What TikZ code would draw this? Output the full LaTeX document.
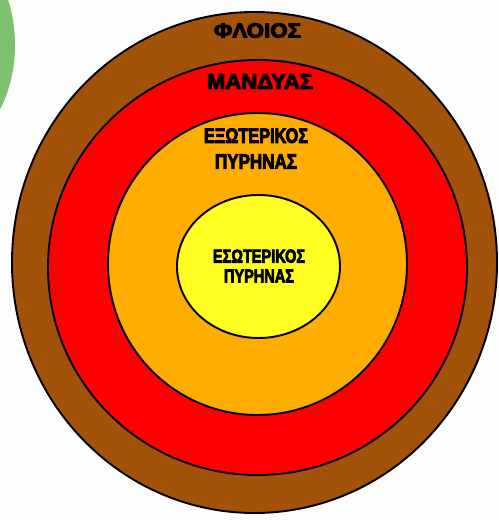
\documentclass[tikz,border=0pt]{standalone}
\usepackage{fontspec}
\usepackage{graphicx}
\setmainfont{Liberation Sans}
\newfontfamily\layerFont[FakeBold=4.5]{Liberation Sans Bold}
\definecolor{pageWhite}{HTML}{FDFDFD}
\definecolor{leafGreen}{HTML}{7DC170}
\definecolor{crustBrown}{HTML}{A3520A}
\definecolor{mantleRed}{HTML}{FF0000}
\definecolor{outerOrange}{HTML}{FFAD00}
\definecolor{innerYellow}{HTML}{FFFF22}

\begin{document}
\begin{tikzpicture}[x=0.02cm,y=-0.02cm,
  layerLabel/.style={inner sep=0pt,align=center,text=black}]
\useasboundingbox (0,0) rectangle (499,520);
\clip (0,0) rectangle (499,520);
\fill[pageWhite] (0,0) rectangle (499,520);
\fill[leafGreen] (-64,45) ellipse [x radius=79, y radius=110];
% layers, outside in
\foreach \cx/\cy/\rx/\ry/\shade in {254.5/262.5/242.5/250.5/crustBrown,
    257.5/267.5/209.5/207.5/mantleRed,
    257.5/264/149.5/151/outerOrange,
    258.5/266.5/81.5/71.5/innerYellow}{
  \filldraw[fill=\shade,draw=black,line width=1.1pt] (\cx,\cy) ellipse [x radius=\rx, y radius=\ry];
}
\node[layerLabel,font={\layerFont\fontsize{9.8}{12}\selectfont}] (crust) at (257.5,30.5) {\scalebox{1.3}[1.18]{ΦΛΟΙΟΣ}};
\node[layerLabel,font={\layerFont\fontsize{10.3}{13}\selectfont}] (mantle) at (260,81.5) {\scalebox{1.22}[1.2]{ΜΑΝΔΥΑΣ}};
\node[layerLabel,font={\layerFont\fontsize{10.3}{14.7}\selectfont}] (outerCore) at (256,148.5) {\scalebox{0.9}[1.15]{ΕΞΩΤΕΡΙΚΟΣ}\\\scalebox{0.94}[1.15]{ΠΥΡΗΝΑΣ}};
\node[layerLabel,font={\layerFont\fontsize{9.5}{11.3}\selectfont}] (innerCore) at (259,266) {\scalebox{0.87}[1.12]{ΕΣΩΤΕΡΙΚΟΣ}\\\scalebox{0.87}[1.12]{ΠΥΡΗΝΑΣ}};
\end{tikzpicture}
\end{document}
